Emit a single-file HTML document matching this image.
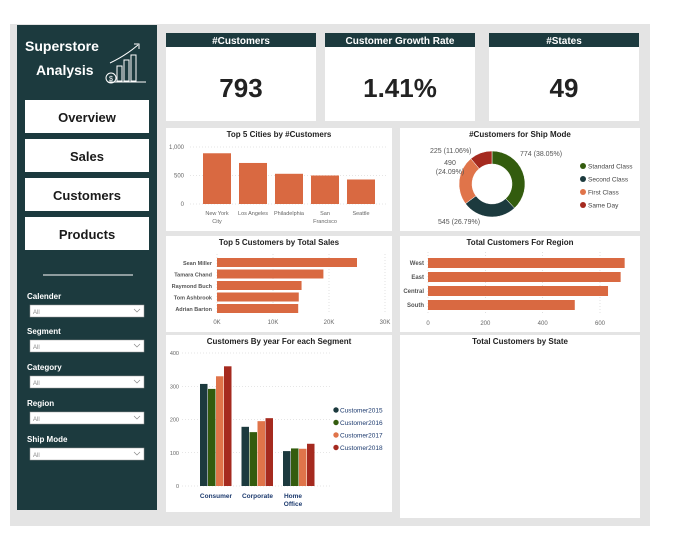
<!DOCTYPE html>
<html><head><meta charset="utf-8"><style>
body{margin:0;width:675px;height:535px;background:#fff;overflow:hidden;font-family:"Liberation Sans",sans-serif}
svg{display:block}
text{font-family:"Liberation Sans",sans-serif}
</style></head><body>
<svg id="s" width="675" height="535" xmlns="http://www.w3.org/2000/svg">
<rect x="10" y="24" width="640" height="502" fill="#e4e4e4"/>
<rect x="17" y="25" width="140" height="485" fill="#1c3a3e"/>
<text x="25" y="51" fill="#fff" font-size="14" font-weight="bold">Superstore</text>
<text x="36" y="75" fill="#fff" font-size="14" font-weight="bold">Analysis</text>
<g stroke="#fff" fill="none" stroke-width="1">
<rect x="117" y="66" width="5" height="15"/><rect x="124" y="60" width="5" height="21"/><rect x="131" y="55" width="5" height="26"/>
<line x1="108" y1="82" x2="146" y2="82"/><path d="M110 63 Q125 56 138 45"/><path d="M134 44 L139 44 L139 49"/>
<circle cx="111" cy="78" r="5"/></g>
<text x="111" y="81" fill="#fff" font-size="7" text-anchor="middle">$</text>
<g id="nav"></g>
<line x1="43" y1="275" x2="133" y2="275" stroke="#fff" stroke-width="1"/>
<g id="filters"></g>
<g id="cards"></g>
<g id="panels"></g>
<g id="charts"></g>
</svg>
<script>
const NS="http://www.w3.org/2000/svg";
const S=document.getElementById('s');
function el(t,a,p){const e=document.createElementNS(NS,t);for(const k in a)e.setAttribute(k,a[k]);(p||S).appendChild(e);return e;}
function tx(x,y,s,a,p){const e=el('text',Object.assign({x:x,y:y},a),p);e.textContent=s;return e;}
const OR="#d96941";

// nav buttons
const navLabels=["Overview","Sales","Customers","Products"];
const navG=document.getElementById('nav');
navLabels.forEach((n,i)=>{
  const y=100+i*39;
  const r=el('rect',{x:25,y:y,width:124,height:33,fill:"#fff"},navG);
  
  
  tx(87,y+22,n,{"font-size":13,"font-weight":"bold","text-anchor":"middle",fill:"#1a1a1a"},navG);
});
// filters
const filterLabels=["Calender","Segment","Category","Region","Ship Mode"];
const fG=document.getElementById('filters');
filterLabels.forEach((n,i)=>{
  const y=[299,334,370,406,442][i];
  tx(27,y,n,{"font-size":8,"font-weight":"bold",fill:"#fff"},fG);
  const r=el('rect',{x:30,y:y+6,width:114,height:12,fill:"#fff",stroke:"#999","stroke-width":0.5},fG);
  
  
  tx(33,y+15,"All",{"font-size":6,fill:"#888"},fG);
  el('path',{d:`M134 ${y+10} l3 3 l3 -3`,stroke:"#888",fill:"none","stroke-width":0.7},fG);
});
// KPI cards
const cardTitles=["#Customers","Customer Growth Rate","#States"];
const cardValues=["793","1.41%","49"];
const cG=document.getElementById('cards');
[[166,150],[325,150],[489,150]].forEach((c,i)=>{
  const r=el('rect',{x:c[0],y:33,width:c[1],height:88,fill:"#fff"},cG);
  
  
  el('rect',{x:c[0],y:33,width:c[1],height:14,fill:"#1c3a3e"},cG);
  tx(c[0]+c[1]/2,44,cardTitles[i],{"font-size":10,"font-weight":"bold",fill:"#fff","text-anchor":"middle"},cG);
  tx(c[0]+c[1]/2,97,cardValues[i],{"font-size":26,"font-weight":"bold",fill:"#222","text-anchor":"middle"},cG);
});
// panels
const pG=document.getElementById('panels');
const panels=[[166,128,226,103,"Top 5 Cities by #Customers"],[400,128,240,103,"#Customers for Ship Mode"],
[166,236,226,96,"Top 5 Customers by Total Sales"],[400,236,240,96,"Total Customers For Region"],
[166,335,226,177,"Customers By year For each Segment"],[400,335,240,183,"Total Customers by State"]];
panels.forEach((p,i)=>{
  const r=el('rect',{x:p[0],y:p[1],width:p[2],height:p[3],fill:"#fff"},pG);
  
  
  tx(p[0]+p[2]/2,p[1]+9,p[4],{"font-size":8,"font-weight":"bold",fill:"#222","text-anchor":"middle"},pG);
});
const G=document.getElementById('charts');

// Chart 1: cities
const cityNames=[["New York","City"],["Los Angeles"],["Philadelphia"],["San","Francisco"],["Seattle"]];
const cityValues=[890,720,530,500,430];
const cityTicks=[0,500,1000];
const cityTickLabels=["0","500","1,000"];
const cy=v=>204-v/1000*57;
cityTicks.forEach((t,i)=>{el('line',{x1:190,x2:387,y1:cy(t),y2:cy(t),stroke:"#ccc","stroke-dasharray":"1 2","stroke-width":0.6},G);
 tx(184,cy(t)+2,cityTickLabels[i],{"font-size":6,fill:"#666","text-anchor":"end"},G);});
cityValues.forEach((v,i)=>{const x=203+i*36;
 const b=el('rect',{x:x,y:cy(v),width:28,height:204-cy(v),fill:OR},G);
 
 
 cityNames[i].forEach((l,j)=>tx(x+14,215+j*8,l,{"font-size":5.5,fill:"#666","text-anchor":"middle"},G));});

// Chart 2: donut
const shipModes=["Standard Class","Second Class","First Class","Same Day"];
const shipValues=[774,545,490,225];
const shipColors=["#335c0e","#1c3a3e","#e0744a","#a52a1f"];
const shipLabels=["774 (38.05%)","545 (26.79%)","490\n(24.09%)","225 (11.06%)"];
const tot=shipValues.reduce((a,b)=>a+b,0);
const ccx=492,ccy=184,R=33,r0=20;let a0=-Math.PI/2;
shipValues.forEach((v,i)=>{const a1=a0+v/tot*2*Math.PI;const lg=a1-a0>Math.PI?1:0;
 const p=`M${ccx+R*Math.cos(a0)} ${ccy+R*Math.sin(a0)} A${R} ${R} 0 ${lg} 1 ${ccx+R*Math.cos(a1)} ${ccy+R*Math.sin(a1)} L${ccx+r0*Math.cos(a1)} ${ccy+r0*Math.sin(a1)} A${r0} ${r0} 0 ${lg} 0 ${ccx+r0*Math.cos(a0)} ${ccy+r0*Math.sin(a0)}Z`;
 const s=el('path',{d:p,fill:shipColors[i],stroke:"#fff","stroke-width":0.5},G);
 
 
 a0=a1;});
tx(520,156,shipLabels[0],{"font-size":7,fill:"#555"},G);
tx(438,224,shipLabels[1],{"font-size":7,fill:"#555"},G);
tx(450,165,"490",{"font-size":7,fill:"#555","text-anchor":"middle"},G);
tx(450,174,"(24.09%)",{"font-size":7,fill:"#555","text-anchor":"middle"},G);
tx(430,153,shipLabels[3],{"font-size":7,fill:"#555"},G);
shipModes.forEach((m,i)=>{el('circle',{cx:583,cy:166+i*13,r:3,fill:shipColors[i]},G);
 tx(588,168.5+i*13,m,{"font-size":6.5,fill:"#444"},G);});

// Chart 3: customers by sales
const custNames=["Sean Miller","Tamara Chand","Raymond Buch","Tom Ashbrook","Adrian Barton"];
const custSales=[25000,19000,15100,14600,14500];
const salesTicks=[0,10000,20000,30000];
const salesTickLabels=["0K","10K","20K","30K"];
const sx=v=>217+v/30000*168;
salesTicks.forEach((t,i)=>{el('line',{x1:sx(t),x2:sx(t),y1:254,y2:314,stroke:"#ccc","stroke-dasharray":"1 2","stroke-width":0.6},G);
 tx(sx(t),324,salesTickLabels[i],{"font-size":6,fill:"#666","text-anchor":"middle"},G);});
custSales.forEach((v,i)=>{const y=258+i*11.5;
 const b=el('rect',{x:217,y:y,width:sx(v)-217,height:9,fill:OR},G);
 
 
 tx(212,y+7,custNames[i],{"font-size":5.5,"font-weight":"bold",fill:"#555","text-anchor":"end"},G);});

// Chart 4: region
const regions=["West","East","Central","South"];
const regionValues=[686,672,628,512];
const regionTicks=[0,200,400,600];
const rx=v=>428+v/600*172;
regionTicks.forEach(t=>{el('line',{x1:rx(t),x2:rx(t),y1:252,y2:315,stroke:"#ccc","stroke-dasharray":"1 2","stroke-width":0.6},G);
 tx(rx(t),325,String(t),{"font-size":6,fill:"#666","text-anchor":"middle"},G);});
regionValues.forEach((v,i)=>{const y=258+i*14;
 const b=el('rect',{x:428,y:y,width:rx(v)-428,height:10,fill:OR},G);
 
 
 tx(424,y+7,regions[i],{"font-size":6,"font-weight":"bold",fill:"#555","text-anchor":"end"},G);});

// Chart 5: segment by year
const segments=[["Consumer"],["Corporate"],["Home","Office"]];
const yearNames=["Customer2015","Customer2016","Customer2017","Customer2018"];
const y2015=[307,178,105];
const y2016=[292,162,113];
const y2017=[330,195,112];
const y2018=[360,204,127];
const yearColors=["#1c3a3e","#335c0e","#e0744a","#a52a1f"];
const segTicks=[0,100,200,300,400];
const sy=v=>486-v/400*133;
segTicks.forEach(t=>{el('line',{x1:182,x2:332,y1:sy(t),y2:sy(t),stroke:"#ccc","stroke-dasharray":"1 2","stroke-width":0.6},G);
 tx(179,sy(t)+2,String(t),{"font-size":5.5,fill:"#666","text-anchor":"end"},G);});
const series=[y2015,y2016,y2017,y2018];
segments.forEach((sg,gi)=>{const gx=200+gi*41.5;
 series.forEach((ser,si)=>{const v=ser[gi];
  const b=el('rect',{x:gx+si*8,y:sy(v),width:7.5,height:486-sy(v),fill:yearColors[si]},G);
  
  });
 sg.forEach((l,j)=>tx(gi==2?gx+10:gx+16,498+j*8,l,{"font-size":6.5,"font-weight":"bold",fill:"#1c3a6e","text-anchor":"middle"},G));});
yearNames.forEach((n,i)=>{el('circle',{cx:336,cy:410+i*12.5,r:2.7,fill:yearColors[i]},G);
 tx(340,412.5+i*12.5,n,{"font-size":6.5,fill:"#1c3a6e"},G);});
</script>
</body></html>
